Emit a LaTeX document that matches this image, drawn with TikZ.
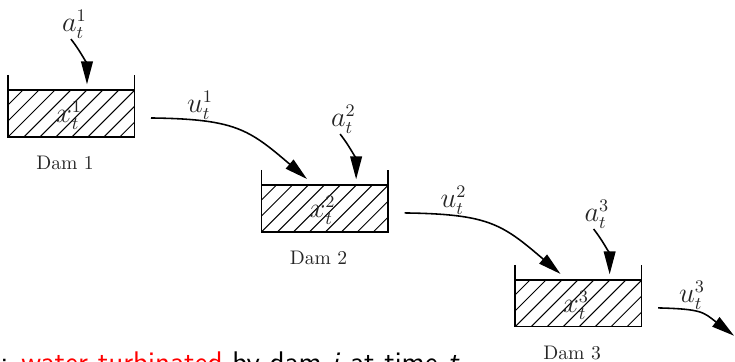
\documentclass[tikz,border=0pt]{standalone}
\usepackage{amsmath}
\usetikzlibrary{arrows.meta}

\tikzset{
  flow/.style={thick, -{Triangle[length=0.41cm,width=0.21cm]}},
  wall/.style={semithick},
  hatch/.style={line width=0.5pt},
  lab/.style={inner sep=0pt, text=black!85},
  mathlab/.style={lab, font=\fontsize{13.5}{16}\selectfont}
}

\begin{document}
\begin{tikzpicture}[>=stealth]
  \clip (0,0) rectangle (13.157,6.48);

  % Dams, each one shifted down and right from the last
  \foreach \i/\xs/\ys/\ao/\uo/\xe/\ye in {1/0/0/0/0/5.495/3.276, 2/4.538/-1.70/0.28/0/10.033/1.576, 3/9.076/-3.40/0.28/-0.27/13.14/0.47} {
    \begin{scope}[shift={(\xs,\ys)}]
      % Hatching of the water
      \begin{scope}
        \clip (0.143,4.028) rectangle (2.408,4.869);
        \foreach \k in {-3,...,7} {
          \draw[hatch] ({0.143+0.286*\k},4.028) -- ++(0.841,0.841);
        }
      \end{scope}
      % Tank and water level
      \draw[wall] (0.143,5.1375) -- (0.143,4.028) -- (2.408,4.028) -- (2.408,5.1375);
      \draw[wall] (0.143,4.869) -- (2.408,4.869);

      \node[mathlab] (x\i) at (1.235,4.42) {$x_t^\i$};
      \node[lab] (dam\i) at (1.164,3.56) {Dam \i};
      \node[mathlab] (a\i) at ({1.33+\ao},6.05) {$a_t^\i$};
      \node[mathlab] (u\i) at ({3.58+\uo},4.60) {$u_t^\i$};
      \coordinate (as\i) at ({1.27+\ao},5.78);
      \coordinate (ae\i) at ({1.557+\ao},4.97);
      \coordinate (us\i) at (2.703,4.368);
    \end{scope}
    \coordinate (ue\i) at (\xe,\ye);
    % Inflow from above
    \draw[flow] (as\i) to[out=-52, in=90] (ae\i);
  }

  % Water sent on to the next dam
  \draw[flow] (us1) .. controls +(1.5,-0.02) and +(-1.05,0.9) .. (ue1);
  \draw[flow] (us2) .. controls +(1.5,-0.02) and +(-1.05,0.9) .. (ue2);
  \draw[flow] (us3) .. controls +(0.8,-0.02) and +(-0.55,0.42) .. (ue3);

  % Legend, cut by the lower edge
  \node[anchor=base west, inner sep=0pt, font=\fontsize{15.2}{18}\sffamily] (legend) at (0,-0.18)
    {: \textcolor{red}{water turbinated} by dam \textit{i} at time \textit{t}};
\end{tikzpicture}
\end{document}
